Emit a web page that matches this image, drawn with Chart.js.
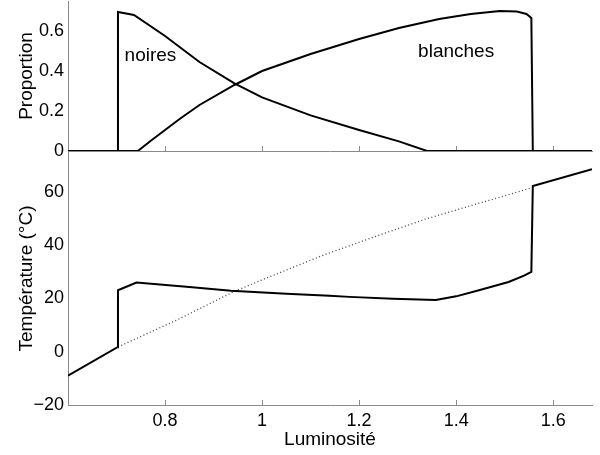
<!DOCTYPE html>
<html><head><meta charset="utf-8">
<script src="https://cdn.jsdelivr.net/npm/chart.js@4"></script>
<style>
html,body{margin:0;padding:0;background:#fff;}
#wrap{position:relative;width:600px;height:455px;overflow:hidden;}
#c1wrap{position:absolute;left:0;top:0;width:600px;height:156px;}
#c2wrap{position:absolute;left:0;top:140px;width:600px;height:315px;}
</style></head><body>
<div id="wrap"><div id="c1wrap"><canvas id="c1"></canvas></div><div id="c2wrap"><canvas id="c2"></canvas></div></div>
<script>
// ---- data ----
const lumNoires  = [0.6, 0.702, 0.703, 0.736, 0.8, 0.83, 0.871, 0.943, 1.0, 1.1, 1.2, 1.282, 1.34, 1.68];
const propNoires = [0, 0, 0.695, 0.68, 0.575, 0.52, 0.445, 0.338, 0.268, 0.178, 0.105, 0.048, 0, 0];

const lumBlanches  = [0.6, 0.744, 0.77, 0.8, 0.83, 0.871, 0.943, 1.0, 1.1, 1.2, 1.282, 1.365, 1.43, 1.49, 1.525, 1.545, 1.555, 1.558, 1.68];
const propBlanches = [0, 0, 0.05, 0.105, 0.16, 0.23, 0.33, 0.40, 0.485, 0.56, 0.615, 0.66, 0.685, 0.70, 0.697, 0.685, 0.665, 0, 0];

const lumTemp = [0.6, 0.702, 0.703, 0.741, 0.85, 0.936, 1.05, 1.139, 1.18, 1.27, 1.358, 1.40, 1.447, 1.508, 1.54, 1.555, 1.558, 1.68];
const temp    = [-9, 1.7, 23.1, 26.0, 24.3, 22.9, 21.8, 21.0, 20.6, 19.9, 19.4, 20.8, 23.1, 26.2, 28.6, 30.0, 62.2, 68.5];

const lumRef  = [0.703, 0.823, 0.94, 1.0, 1.128, 1.237, 1.337, 1.45, 1.555];
const tempRef = [1.8, 11.8, 22.4, 27.0, 36.4, 43.5, 49.8, 55.9, 61.5];

const xTicks = [0.8, 1, 1.2, 1.4, 1.6];
const propTicks = [0, 0.2, 0.4, 0.6];
const tempTicks = [-20, 0, 20, 40, 60];

const labelText = ['noires', 'blanches'];
const labelLum  = [0.77, 1.40];
const labelProp = [0.475, 0.495];

// ---- helpers ----
const FONT = '"Liberation Sans", Arial, sans-serif';
const AXIS = '#8a8a8a';
const pts = (xs, ys) => xs.map((x, i) => ({x, y: ys[i]}));
const fmt = v => String(Math.round(v * 100) / 100).replace('-', '\u2212');
const noPad = s => { s.paddingTop = 0; s.paddingBottom = 0; s.paddingLeft = 0; s.paddingRight = 0; };

function xAxis(showLabels) {
  return {
    type: 'linear', min: 0.6, max: 1.68,
    afterBuildTicks: s => { s.ticks = xTicks.map(v => ({value: v})); },
    afterFit: s => { s.height = showLabels ? 50 : 5; noPad(s); },
    grid: {drawOnChartArea: false, drawTicks: true, tickLength: -5, color: AXIS},
    border: {color: AXIS, width: 1},
    ticks: {display: showLabels, color: '#000', font: {family: FONT, size: 18}, padding: 10, maxRotation: 0,
            callback: v => fmt(v)},
    title: {display: showLabels, text: 'Luminosité', color: '#000', font: {family: FONT, size: 19},
            padding: {top: 0, bottom: 4}}
  };
}
function yAxis(min, max, ticks, title) {
  return {
    type: 'linear', min, max,
    afterBuildTicks: s => { s.ticks = ticks.map(v => ({value: v})); },
    afterFit: s => { s.width = 68; noPad(s); },
    grid: {drawOnChartArea: false, drawTicks: false, color: AXIS},
    border: {color: AXIS, width: 1},
    ticks: {color: '#000', font: {family: FONT, size: 18}, padding: 4, callback: v => fmt(v)},
    title: {display: true, text: title, color: '#000', font: {family: FONT, size: 19},
            padding: {top: 15, bottom: 0}}
  };
}

const textPlugin = {
  id: 'seriesText',
  afterDatasetsDraw(chart) {
    const {ctx, scales} = chart;
    ctx.save();
    ctx.font = '19px ' + FONT;
    ctx.fillStyle = '#000';
    ctx.textAlign = 'center';
    ctx.textBaseline = 'middle';
    labelText.forEach((t, i) => {
      ctx.fillText(t, scales.x.getPixelForValue(labelLum[i]), scales.y.getPixelForValue(labelProp[i]));
    });
    ctx.restore();
  }
};

const common = {
  animation: false, responsive: true, maintainAspectRatio: false,
  plugins: {legend: {display: false}, tooltip: {enabled: false}},
  elements: {point: {radius: 0}, line: {tension: 0}}
};

new Chart(document.getElementById('c1'), {
  type: 'line',
  data: {datasets: [
    {data: pts(lumNoires, propNoires), borderColor: '#000', borderWidth: 2, fill: false},
    {data: pts(lumBlanches, propBlanches), borderColor: '#000', borderWidth: 2, fill: false}
  ]},
  options: Object.assign({}, common, {
    layout: {padding: {left: 0, right: 8, top: 1, bottom: 0}},
    scales: {x: xAxis(false), y: yAxis(0, 0.75, propTicks, 'Proportion')}
  }),
  plugins: [textPlugin]
});

new Chart(document.getElementById('c2'), {
  type: 'line',
  data: {datasets: [
    {data: pts(lumTemp, temp), borderColor: '#000', borderWidth: 2, fill: false},
    {data: pts(lumRef, tempRef), borderColor: '#444', borderWidth: 1.3, borderDash: [1, 2.5], fill: false}
  ]},
  options: Object.assign({}, common, {
    layout: {padding: {left: 0, right: 8, top: 12, bottom: 0}},
    scales: {x: xAxis(true), y: yAxis(-20, 75, tempTicks, 'Température (°C)')}
  })
});
</script>
</body></html>
